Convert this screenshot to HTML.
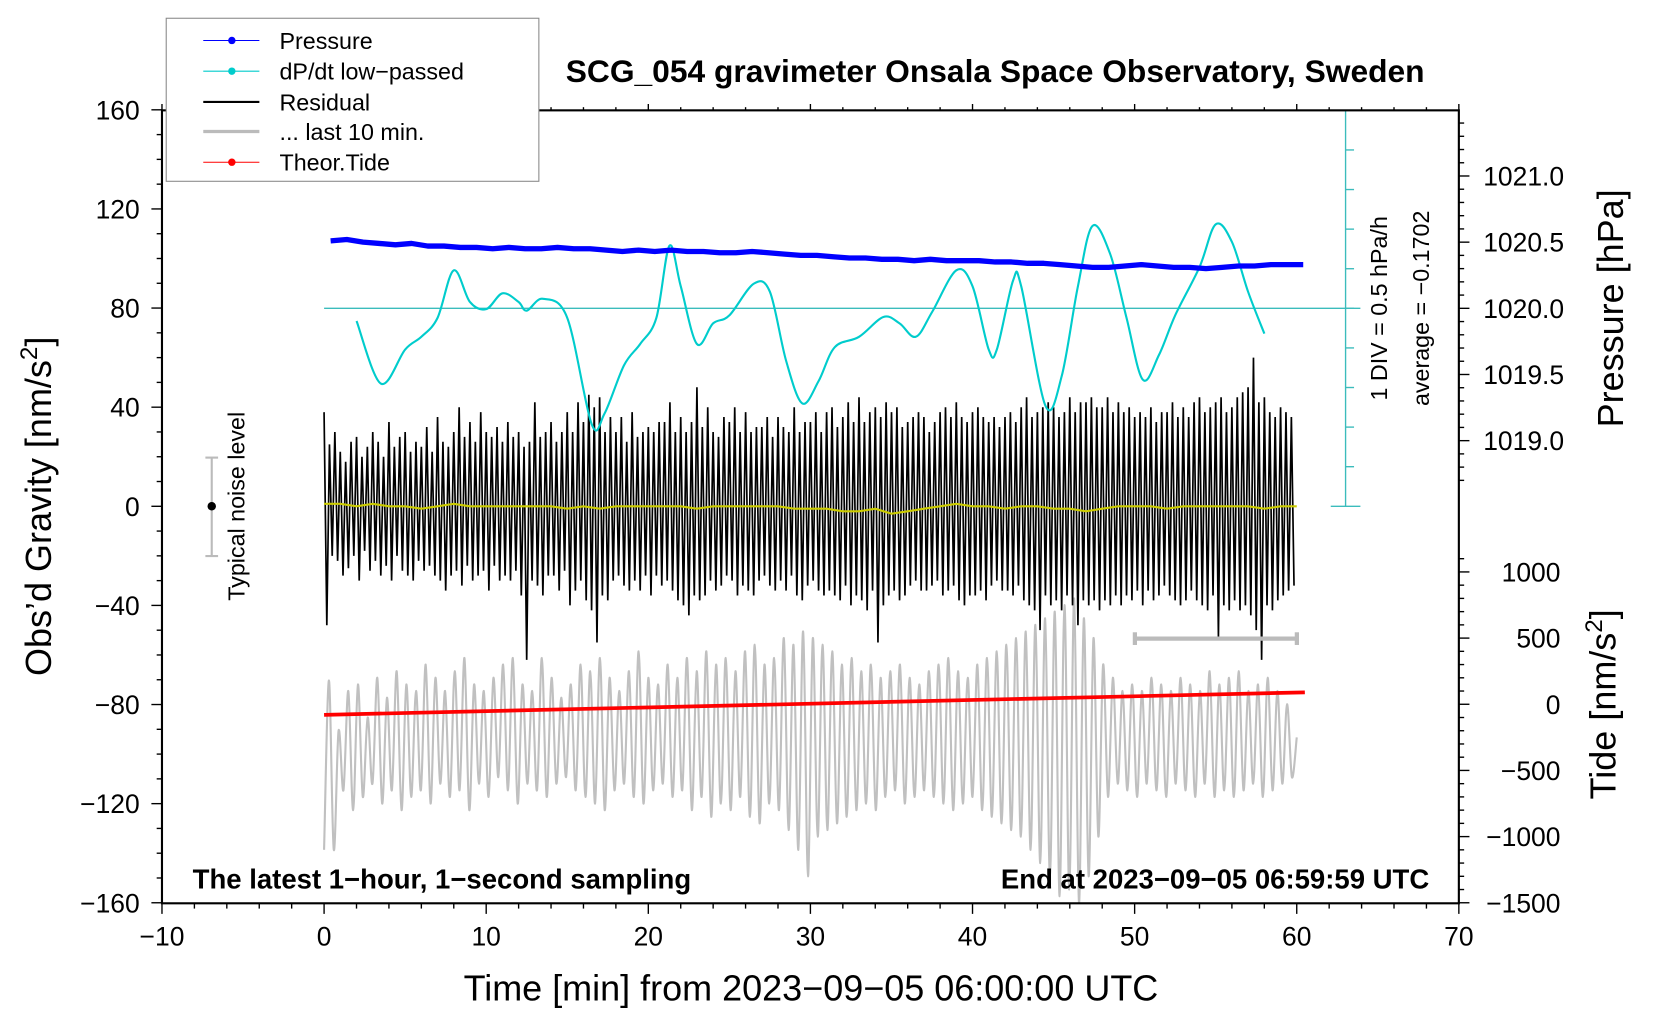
<!DOCTYPE html>
<html><head><meta charset="utf-8"><style>
html,body{margin:0;padding:0;background:#fff;}
svg{display:block;font-family:"Liberation Sans",sans-serif;}
</style></head><body>
<svg id="chart" width="1660" height="1020" viewBox="0 0 1568 963" xmlns="http://www.w3.org/2000/svg">
<rect width="1568" height="963" fill="#fff"/>
<g id="marks"></g>
<g id="axes"></g>
<text x="940" y="77" font-size="30" font-weight="bold" text-anchor="middle">SCG_054 gravimeter Onsala Space Observatory, Sweden</text>
<text transform="translate(48,478) rotate(-90)" font-size="34" text-anchor="middle">Obs’d Gravity [nm/s<tspan font-size="23" dy="-13">2</tspan><tspan dy="13">]</tspan></text>
<text transform="translate(1533,291) rotate(-90)" font-size="34" text-anchor="middle">Pressure [hPa]</text>
<text transform="translate(1526,665) rotate(-90)" font-size="34" text-anchor="middle">Tide [nm/s<tspan font-size="23" dy="-13">2</tspan><tspan dy="13">]</tspan></text>
<text x="766" y="945" font-size="34" text-anchor="middle">Time [min] from 2023−09−05 06:00:00 UTC</text>
<text x="182" y="839" font-size="26" font-weight="bold">The latest 1−hour, 1−second sampling</text>
<text x="1350" y="839" font-size="26" font-weight="bold" text-anchor="end">End at 2023−09−05 06:59:59 UTC</text>
<text transform="translate(1310,291) rotate(-90)" font-size="22" text-anchor="middle">1 DIV = 0.5 hPa/h</text>
<text transform="translate(1350,291) rotate(-90)" font-size="22" text-anchor="middle">average = −0.1702</text>
<g stroke="#bbb" stroke-width="2">
<line x1="200" y1="432" x2="200" y2="525"/><line x1="194" y1="432" x2="206" y2="432"/><line x1="194" y1="525" x2="206" y2="525"/>
</g>
<circle cx="200" cy="478" r="4" fill="#000"/>
<text transform="translate(231,478) rotate(-90)" font-size="22" text-anchor="middle">Typical noise level</text>
<g stroke="#bbb" stroke-width="4">
<line x1="1072" y1="603" x2="1225" y2="603"/><line x1="1072" y1="597" x2="1072" y2="609"/><line x1="1225" y1="597" x2="1225" y2="609"/>
</g>
<g>
<rect x="157" y="17" width="352" height="154" fill="#fff" stroke="#888" stroke-width="1"/>
<g><line x1="192" y1="38" x2="245" y2="38" stroke="#00f"/><circle cx="219" cy="38" r="3.5" fill="#00f"/><text x="264" y="46" font-size="22">Pressure</text></g>
<g><line x1="192" y1="67" x2="245" y2="67" stroke="#0cc"/><circle cx="219" cy="67" r="3.5" fill="#0cc"/><text x="264" y="75" font-size="22">dP/dt low−passed</text></g>
<g><line x1="192" y1="96" x2="245" y2="96" stroke="#000" stroke-width="2"/><text x="264" y="104" font-size="22">Residual</text></g>
<g><line x1="192" y1="124" x2="245" y2="124" stroke="#bbb" stroke-width="3"/><text x="264" y="132" font-size="22">... last 10 min.</text></g>
<g><line x1="192" y1="153" x2="245" y2="153" stroke="#f00"/><circle cx="219" cy="153" r="3.5" fill="#f00"/><text x="264" y="161" font-size="22">Theor.Tide</text></g>
</g>
</svg>
<script>
const residual=[38,-48,25,-20,30,-22,22,-28,18,-25,26,-20,28,-30,20,-18,24,-26,30,-22,26,-28,20,-24,34,-30,24,-20,28,-26,30,-28,22,-30,26,-22,24,-26,32,-24,22,-28,36,-30,26,-34,24,-28,30,-26,40,-32,28,-24,34,-30,26,-28,38,-26,30,-34,28,-24,32,-30,26,-28,34,-30,28,-26,30,-36,24,-62,26,-30,42,-32,28,-36,30,-28,34,-28,26,-34,30,-26,38,-40,30,-34,42,-30,34,-38,45,-42,40,-55,44,-36,30,-38,36,-30,30,-28,36,-32,26,-34,38,-30,28,-34,30,-28,32,-36,30,-28,34,-32,34,-30,42,-34,30,-38,36,-40,30,-44,34,-36,48,-38,32,-36,40,-30,30,-34,28,-32,36,-28,34,-30,40,-36,30,-32,38,-34,30,-36,32,-30,32,-28,36,-32,28,-34,36,-30,32,-34,30,-28,40,-36,30,-38,34,-32,34,-30,38,-34,30,-36,38,-34,40,-36,32,-38,36,-32,42,-40,34,-36,44,-38,34,-42,38,-34,40,-55,36,-40,42,-36,38,-34,40,-38,32,-36,34,-32,36,-30,38,-34,36,-34,30,-32,34,-30,38,-36,40,-34,36,-32,42,-38,36,-40,34,-36,38,-36,40,-34,36,-38,34,-32,36,-30,32,-34,36,-34,38,-36,34,-32,40,-38,44,-40,36,-42,38,-50,40,-36,42,-40,40,-38,36,-42,38,-36,44,-40,38,-48,42,-38,42,-40,44,-38,40,-42,40,-38,44,-40,38,-36,42,-40,38,-36,40,-38,36,-34,38,-40,36,-34,40,-38,34,-36,38,-32,38,-36,42,-38,36,-40,40,-38,36,-34,42,-38,44,-40,38,-42,40,-36,42,-53,44,-40,38,-42,40,-38,44,-42,46,-40,48,-44,60,-50,42,-62,44,-40,38,-42,36,-38,40,-36,38,-34,36,-32];
const last10=[-1100,180,-1100,-200,-650,100,-800,150,-700,-100,-600,200,-750,50,-650,250,-800,150,-700,100,-650,300,-750,200,-600,100,-700,250,-650,350,-800,150,-600,100,-700,200,-550,300,-650,350,-750,150,-600,100,-650,350,-700,200,-600,50,-550,150,-650,300,-700,250,-750,350,-800,200,-650,100,-600,250,-700,400,-750,200,-650,150,-600,300,-700,200,-650,350,-800,250,-700,400,-850,300,-750,350,-800,250,-700,400,-850,450,-900,300,-750,350,-800,500,-950,450,-1100,550,-1300,500,-1000,450,-950,400,-900,300,-850,350,-800,250,-750,300,-800,200,-700,250,-650,300,-750,200,-700,150,-650,250,-700,300,-750,350,-800,250,-750,200,-700,300,-800,350,-850,400,-900,450,-950,500,-1000,550,-1100,600,-1200,650,-1300,700,-1450,750,-1400,800,-1500,650,-1300,500,-1000,300,-700,200,-600,100,-650,150,-700,100,-600,200,-650,150,-700,100,-600,200,-650,150,-700,100,-600,250,-700,150,-650,200,-700,250,-650,100,-600,150,-700,200,-650,100,-600,0,-550,-250];
const pressure=[1020.51,1020.52,1020.50,1020.49,1020.48,1020.49,1020.47,1020.47,1020.46,1020.46,1020.45,1020.46,1020.45,1020.45,1020.46,1020.45,1020.45,1020.44,1020.43,1020.44,1020.43,1020.44,1020.43,1020.43,1020.42,1020.42,1020.43,1020.42,1020.41,1020.40,1020.40,1020.39,1020.38,1020.38,1020.37,1020.37,1020.36,1020.37,1020.36,1020.36,1020.36,1020.35,1020.35,1020.34,1020.34,1020.33,1020.32,1020.31,1020.31,1020.32,1020.33,1020.32,1020.31,1020.31,1020.30,1020.31,1020.32,1020.32,1020.33,1020.33,1020.33];
const dpdtMin=[2,3.5,5,6,7,8,9,10,11,12,12.5,13.5,15,16.5,17.3,18.5,19.5,20.5,21.3,22,23,24,25,26.5,27.5,28.5,29.5,30.5,31.5,33,34.5,35.5,36.5,37.5,39,40,41,41.5,42.5,43,44.5,45.5,46.5,47.4,48.5,49.5,50.5,51.5,52.5,54,55,56,57,58];
const dpdtVal=[-0.16,-0.95,-0.52,-0.36,-0.12,0.48,0.08,-0.01,0.19,0.08,-0.03,0.12,-0.12,-1.46,-1.33,-0.72,-0.45,-0.12,0.79,0.28,-0.45,-0.19,-0.09,0.31,0.21,-0.66,-1.2,-0.92,-0.49,-0.36,-0.11,-0.19,-0.36,-0.05,0.48,0.28,-0.52,-0.52,0.35,0.28,-1.23,-0.86,0.28,1.04,0.68,-0.12,-0.9,-0.59,-0.09,0.52,1.06,0.84,0.21,-0.32];
const yellow=[1,1,0,1,0,0,-1,0,1,0,0,0,0,0,0,-1,0,-1,0,0,0,0,0,-1,0,0,0,0,0,-1,-1,-1,-2,-2,-1,-3,-2,-1,0,1,0,0,-1,0,0,-1,-1,-2,-1,0,0,0,-1,0,0,0,0,0,-1,0,0];
const tideStart=-80, tideEnd=90;
const xTicks=[-10,0,10,20,30,40,50,60,70];
const gTicks=[160,120,80,40,0,-40,-80,-120,-160];
const pTicks=[1021.0,1020.5,1020.0,1019.5,1019.0];
const tTicks=[1000,500,0,-500,-1000,-1500];

const X=m=>153+(m+10)*(1378-153)/80;
const G=v=>478-v*(853-104)/320;
const P=v=>291-(v-1020)*125;
const T=v=>665-v*0.125;
const D=v=>291-v/0.5*37.4;
const NS='http://www.w3.org/2000/svg';
const marks=document.getElementById('marks'), axes=document.getElementById('axes');
function el(tag,attrs,parent){const e=document.createElementNS(NS,tag);for(const k in attrs)e.setAttribute(k,attrs[k]);parent.appendChild(e);return e;}
function smooth(pts){let d='M'+pts[0][0].toFixed(1)+','+pts[0][1].toFixed(1);for(let i=0;i<pts.length-1;i++){const p0=pts[Math.max(0,i-1)],p1=pts[i],p2=pts[i+1],p3=pts[Math.min(pts.length-1,i+2)];d+=' C'+(p1[0]+(p2[0]-p0[0])/6).toFixed(1)+','+(p1[1]+(p2[1]-p0[1])/6).toFixed(1)+' '+(p2[0]-(p3[0]-p1[0])/6).toFixed(1)+','+(p2[1]-(p3[1]-p1[1])/6).toFixed(1)+' '+p2[0].toFixed(1)+','+p2[1].toFixed(1);}return d;}

let pts=last10.map((v,i)=>[X(i*60/(last10.length-1)),T(v)]);
let e=el('path',{d:smooth(pts),fill:'none',stroke:'#c0c0c0','stroke-width':2},marks);


e=el('line',{x1:X(0),y1:T(tideStart),x2:X(60.5),y2:T(tideEnd),stroke:'#f00','stroke-width':3.5},marks);


e=el('line',{x1:X(0),y1:291,x2:1285,y2:291,stroke:'#3bbcbc','stroke-width':1.3},marks);


const sb=el('g',{stroke:'#3bbcbc','stroke-width':1.3},marks);


el('line',{x1:1271,y1:104,x2:1271,y2:478},sb);
el('line',{x1:1257,y1:104,x2:1285,y2:104},sb);
el('line',{x1:1257,y1:478,x2:1285,y2:478},sb);
for(let k=1;k<10;k++)el('line',{x1:1271,y1:104+k*37.4,x2:1279,y2:104+k*37.4},sb);
pts=residual.map((v,i)=>X(i*60/residual.length).toFixed(1)+','+G(v).toFixed(1));
e=el('polyline',{points:pts.join(' '),fill:'none',stroke:'#000','stroke-width':1.6},marks);


pts=yellow.map((v,i)=>X(i*60/(yellow.length-1)).toFixed(1)+','+G(v).toFixed(1));
e=el('polyline',{points:pts.join(' '),fill:'none',stroke:'#cccc00','stroke-width':2},marks);


pts=dpdtMin.map((m,i)=>[X(m),D(dpdtVal[i])]);
e=el('path',{d:smooth(pts),fill:'none',stroke:'#0cc','stroke-width':2},marks);


pts=pressure.map((v,i)=>X(0.4+i*60/(pressure.length-1)).toFixed(1)+','+P(v).toFixed(1));
e=el('polyline',{points:pts.join(' '),fill:'none',stroke:'#00f','stroke-width':5,'stroke-linejoin':'round'},marks);



const fr=el('rect',{x:153,y:104,width:1225,height:749,fill:'none',stroke:'#000','stroke-width':2},axes);


const tg=el('g',{stroke:'#000','stroke-width':1.3},axes);
for(let m=-10;m<=70;m+=2){const L=(m%10===0)?10:5;el('line',{x1:X(m),y1:853,x2:X(m),y2:853+L},tg);el('line',{x1:X(m),y1:104,x2:X(m),y2:104-L*0.6},tg);}
for(let v=-160;v<=160;v+=10){const L=(v%40===0)?10:5;el('line',{x1:153,y1:G(v),x2:153-L,y2:G(v)},tg);}
for(let v=1018.7;v<=1021.5;v+=0.1){const y=P(v);if(y<104||y>478)continue;const maj=Math.abs(v*2-Math.round(v*2))<0.01;el('line',{x1:1378,y1:y,x2:1378+(maj?10:5),y2:y},tg);}
for(let v=-1500;v<=1100;v+=100){const y=T(v);if(y<520||y>853)continue;el('line',{x1:1378,y1:y,x2:1378+(v%500===0?10:5),y2:y},tg);}
xTicks.forEach(v=>{const t=el('text',{x:X(v),y:893,'font-size':25,'text-anchor':'middle'},axes);t.textContent=(v<0?'−':'')+Math.abs(v);});
gTicks.forEach(v=>{const t=el('text',{x:132,y:G(v)+9,'font-size':25,'text-anchor':'end'},axes);t.textContent=(v<0?'−':'')+Math.abs(v);});
pTicks.forEach(v=>{const t=el('text',{x:1401,y:P(v)+9,'font-size':25},axes);t.textContent=v.toFixed(1);});
tTicks.forEach(v=>{const t=el('text',{x:1474,y:T(v)+9,'font-size':25,'text-anchor':'end'},axes);t.textContent=(v<0?'−':'')+Math.abs(v);});
</script>
</body></html>
